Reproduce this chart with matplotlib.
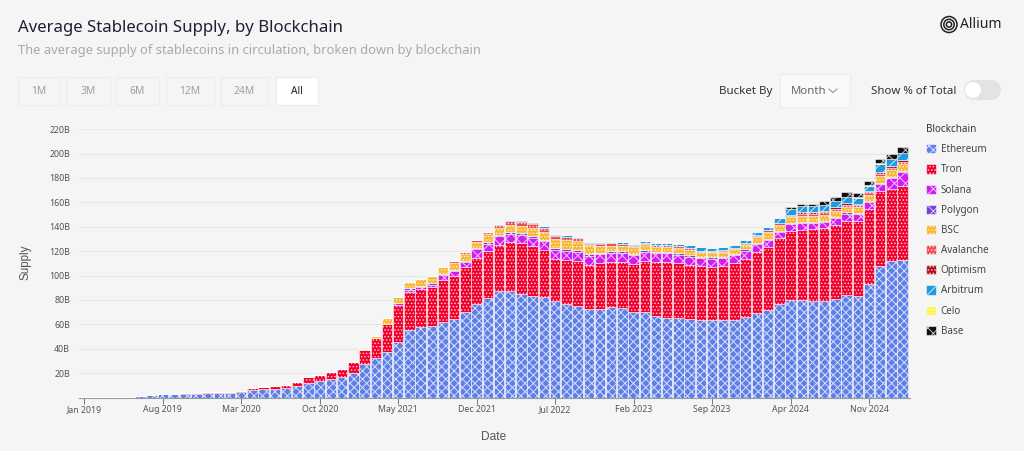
import numpy as np
import matplotlib
matplotlib.use("Agg")
import matplotlib.pyplot as plt
from matplotlib.patches import Rectangle, Circle

plt.rcParams["font.family"] = ["Noto Sans", "DejaVu Sans"]
plt.rcParams["hatch.linewidth"] = 0.7

BG = "#f5f5f5"

tick_labels = ["Jan 2019", "Aug 2019", "Mar 2020", "Oct 2020", "May 2021", "Dec 2021",
               "Jul 2022", "Feb 2023", "Sep 2023", "Apr 2024", "Nov 2024"]
y_ticks = [20, 40, 60, 80, 100, 120, 140, 160, 180, 200, 220]

ethereum = [0.3, 0.4, 0.5, 0.6, 0.8, 1.3, 2.2, 2.5, 2.8, 3.2,
            3.2, 3.3, 3.4, 3.4, 4.4, 6.5, 7, 7, 7.6, 9.5,
            12, 13.6, 15, 16.6, 20, 27.3, 32, 37, 45.6, 55,
            57.4, 58.7, 61.7, 64, 69.7, 76.8, 81.7, 87, 87.4, 85,
            82.8, 82, 78.7, 77, 75, 72.7, 72.4, 73.8, 73.5, 70,
            70, 66.7, 65, 65, 64.6, 63.8, 63.5, 63.3, 63.5, 65.7,
            69, 71.7, 77, 80, 80, 79, 79, 81, 83.7, 83.5,
            93, 107.8, 112, 112.7]
tron = [0, 0, 0, 0, 0, 0.1, 0.2, 0.2, 0.2, 0.3,
        0.6, 0.8, 0.8, 0.8, 0.6, 0.9, 2, 2.8, 3, 3.5,
        4.4, 4.7, 5.5, 6.4, 9, 12, 17, 23, 30.4, 31.6,
        31.4, 32, 35, 36, 36.9, 37.8, 38.3, 37.9, 39.9, 41.5,
        41, 38.5, 34.7, 36, 36.7, 35.8, 37.6, 37.2, 37.5, 39.6,
        42, 44.5, 46.3, 45, 44, 44, 43.2, 44.5, 46.5, 48.1,
        50.5, 51.9, 54, 56.7, 57.5, 58.9, 60.2, 60.4, 61, 61.2,
        61.5, 61.2, 58.6, 60.7]
solana = [0, 0, 0, 0, 0, 0, 0, 0, 0, 0,
          0, 0, 0, 0, 0, 0, 0, 0, 0, 0,
          0, 0, 0, 0, 0, 0, 0, 0, 1.2, 1.2,
          1.6, 1.6, 3.5, 3.8, 4.2, 6.8, 6.2, 7.2, 7.1, 6.5,
          7.2, 7.4, 7.4, 7, 7.3, 7.5, 7.5, 7.6, 7.4, 7.1,
          7.1, 7, 6.9, 7, 6.8, 6.3, 7.1, 6.5, 6.7, 6.5,
          6.3, 5.5, 5, 5.3, 5.5, 5.3, 5, 6, 6, 6,
          6, 6.3, 9.5, 11.4]
polygon = [0, 0, 0, 0, 0, 0, 0, 0, 0, 0,
           0, 0, 0, 0, 0, 0, 0, 0, 0, 0,
           0, 0, 0, 0, 0, 0, 0, 0, 0, 1.9,
           1.1, 1.4, 1.1, 1.1, 1.1, 1.1, 1.4, 1.4, 1.4, 1.6,
           1.6, 1.6, 1.9, 1.9, 1.6, 1.5, 1.2, 1.4, 1.4, 1.3,
           1.4, 1.2, 1.2, 1.2, 1.1, 1, 1.1, 1.1, 1.2, 1.1,
           1.1, 0.9, 0.8, 0.8, 0.8, 0.7, 0.8, 0.8, 1, 0.8,
           0.8, 0.8, 0.8, 1.2]
bsc = [0, 0, 0, 0, 0, 0, 0, 0, 0, 0,
       0, 0, 0, 0, 0, 0, 0, 0, 0, 0,
       0, 0, 0, 0, 0, 0.2, 1.6, 5, 5.5, 5,
       5.3, 5.7, 5.6, 5.7, 5.9, 5.2, 6.8, 5.4, 5.7, 6,
       6.5, 6.5, 7.1, 7, 7.5, 7.1, 5.4, 4.4, 4.4, 5.5,
       5.2, 4.1, 4.3, 4.4, 4.5, 4, 4, 3.9, 4, 4,
       4.6, 5.5, 4.6, 5.2, 4.8, 4.6, 4.8, 4.6, 4.5, 4.5,
       5, 5.3, 5.2, 5.6]
avalanche = [0, 0, 0, 0, 0, 0, 0, 0, 0, 0,
             0, 0, 0, 0, 0, 0, 0, 0, 0, 0,
             0, 0, 0, 0, 0, 0, 0, 0, 0, 0,
             0, 0, 0.4, 1, 1.2, 1.3, 1.4, 2.6, 3, 3.5,
             3.5, 2.8, 2.8, 2.7, 2.5, 1.6, 1.9, 1.9, 1.6, 0.8,
             0.8, 1.3, 1.4, 1.3, 1.2, 1, 1, 1, 0.6, 0.8,
             1.1, 1.4, 1.6, 1.1, 2.2, 2.2, 1.9, 1.6, 1.6, 1.6,
             1.9, 2.2, 1.9, 1.4]
optimism = [0, 0, 0, 0, 0, 0, 0, 0, 0, 0,
            0, 0, 0, 0, 0, 0, 0, 0, 0, 0,
            0, 0, 0, 0, 0, 0, 0, 0, 0, 0,
            0, 0, 0, 0, 0, 0, 0, 0.1, 0.2, 0.2,
            0.2, 0.2, 0.3, 0.3, 0.3, 0.3, 0.3, 0.3, 0.3, 0.3,
            0.3, 0.3, 0.3, 0.3, 0.3, 0.3, 0.3, 0.3, 0.3, 0.3,
            0.3, 0.3, 0.4, 0.8, 1.1, 1.1, 1.4, 1.4, 1.4, 1.1,
            1.1, 1.4, 1.6, 1.4]
arbitrum = [0, 0, 0, 0, 0, 0, 0, 0, 0, 0,
            0, 0, 0, 0, 0, 0, 0, 0, 0, 0,
            0, 0, 0, 0, 0, 0, 0, 0, 0, 0,
            0, 0, 0, 0, 0, 0, 0, 0.6, 1, 1.2,
            1, 1.2, 1.2, 1.2, 0.8, 0.8, 1, 1.2, 1, 1,
            1.2, 1.4, 1.6, 2, 2.2, 2.6, 2.6, 2.8, 2.6, 3,
            3, 2.2, 3.5, 4.4, 4.9, 4.9, 4.9, 5, 5.2, 5.2,
            4.4, 6.8, 6, 6]
celo = [0, 0, 0, 0, 0, 0, 0, 0, 0, 0,
        0, 0, 0, 0, 0, 0, 0, 0, 0, 0,
        0, 0, 0, 0, 0, 0, 0, 0, 0, 0,
        0, 0, 0, 0, 0, 0, 0, 0, 0, 0,
        0.1, 0.1, 0.1, 0.1, 0.1, 0.1, 0.1, 0.1, 0.1, 0.1,
        0.1, 0.1, 0.1, 0.1, 0.1, 0.1, 0.1, 0.1, 0.1, 0.1,
        0.1, 0.1, 0.1, 0.1, 0.1, 0.1, 0.1, 0.1, 0.1, 0.1,
        0.1, 0.1, 0.1, 0.1]
base = [0, 0, 0, 0, 0, 0, 0, 0, 0, 0,
        0, 0, 0, 0, 0, 0, 0, 0, 0, 0,
        0, 0, 0, 0, 0, 0, 0, 0, 0, 0,
        0, 0, 0, 0, 0, 0, 0, 0, 0, 0,
        0, 0, 0, 0, 0, 0, 0, 0, 0, 0,
        0, 0, 0, 0, 0, 0, 0, 0, 0, 0,
        0, 0, 0.2, 1.7, 1.8, 1.9, 2.8, 3.2, 3.6, 3.4,
        4, 3.6, 4, 4.6]

chains = [("Ethereum", ethereum, "#5f7fe8", "xxxx"),
          ("Tron", tron, "#f0002d", "....."),
          ("Solana", solana, "#d21cf0", "xxx"),
          ("Polygon", polygon, "#7a3fd9", "xxx"),
          ("BSC", bsc, "#f7b731", "....."),
          ("Avalanche", avalanche, "#ee4b4b", "....."),
          ("Optimism", optimism, "#b00d1e", "....."),
          ("Arbitrum", arbitrum, "#1e9be0", "///"),
          ("Celo", celo, "#fdf24e", "....."),
          ("Base", base, "#111111", "xxx")]

fig = plt.figure(figsize=(10.24, 4.51), dpi=100, facecolor=BG)

# page furniture in pixel coordinates
ui = fig.add_axes([0, 0, 1, 1])
ui.set_xlim(0, 1024); ui.set_ylim(451, 0); ui.axis("off")


def box(x0, y0, x1, y1, fc, ec="#ececec"):
    ui.add_patch(Rectangle((x0, y0), x1 - x0, y1 - y0, fc=fc, ec=ec, lw=0.8))


ui.text(18, 28, "Average Stablecoin Supply, by Blockchain", fontsize=12.1, color="#1e2233",
        fontweight="medium", va="center")
ui.text(18, 50.5, "The average supply of stablecoins in circulation, broken down by blockchain",
        fontsize=9.3, color="#a9a9a9", va="center")

buttons = [("1M", 18, 60), ("3M", 66, 110), ("6M", 116, 159), ("12M", 166, 214), ("24M", 221, 268), ("All", 275.5, 317.5)]
for label, x0, x1 in buttons:
    on = label == "All"
    box(x0, 76.5, x1, 104.5, "white" if on else BG)
    ui.text((x0 + x1) / 2, 91, label, fontsize=7.4, ha="center", va="center",
            color="#222222" if on else "#a0a0a0", fontweight="medium" if on else "normal")

ui.text(719, 91.5, "Bucket By", fontsize=8.3, color="#333333", fontweight="medium", va="center")
box(780, 73.5, 850, 106.5, "#fafafa")
ui.text(791, 91, "Month", fontsize=8.2, color="#666666", va="center")
ui.plot([829, 833, 837], [89, 92.5, 89], color="#888888", lw=0.7)
ui.text(871, 91, "Show % of Total", fontsize=8.2, color="#333333", fontweight="medium", va="center")
ui.add_patch(Rectangle((974, 80), 17, 20, fc="#e3e3e3", ec="none"))
ui.add_patch(Circle((974, 90), 10, fc="#e3e3e3", ec="none"))
ui.add_patch(Circle((991, 90), 10, fc="#e3e3e3", ec="none"))
ui.add_patch(Circle((973, 90), 8, fc="white", ec="none"))

for r in [8, 5.2, 2.6]:
    ui.add_patch(Circle((949, 24.5), r, fc="none", ec="#222222", lw=1.1))
ui.text(960, 24.5, "Allium", fontsize=10, color="#222222", va="center")

# chart
ax = fig.add_axes([78.5 / 1024, 1 - 397.5 / 451, (910 - 78.5) / 1024, 268.4 / 451], facecolor="none")
months = np.arange(len(ethereum))
bottom = np.zeros(len(ethereum))
handles = []
for name, vals, color, hatch in chains:
    vals = np.array(vals, dtype=float)
    b = ax.bar(months, vals, 0.93, bottom=bottom, color=color, edgecolor=(1, 1, 1, 0.75),
               linewidth=0.5, hatch=hatch, label=name, zorder=3)
    handles.append(b)
    bottom += vals

ax.set_xlim(-0.517, 73.66)
ax.set_ylim(0, 220)
ax.set_xticks(months[::7])
ax.set_xticklabels(tick_labels, fontsize=6.3, color="#555555")
ax.set_yticks(y_ticks)
ax.set_yticklabels([f"{v}B" for v in y_ticks], fontsize=6.4, color="#555555")
ax.grid(axis="y", color="#e8e8e8", lw=0.9, zorder=0)
ax.tick_params(axis="x", length=4, width=0.7, color="#777777", pad=1.5)
ax.tick_params(axis="y", length=0, pad=6)
for s in ["top", "right", "left"]:
    ax.spines[s].set_visible(False)
ax.spines["bottom"].set_color("#999999"); ax.spines["bottom"].set_linewidth(0.8)
ax.set_axisbelow(True)

ui.text(26, 262, "Supply", fontsize=8.4, color="#555555", rotation=90, ha="center", va="center",
        family="Liberation Sans")
ui.text(494, 437, "Date", fontsize=8.6, color="#555555", ha="center", va="center",
        family="Liberation Sans")

leg = ax.legend(handles=handles, title="Blockchain", frameon=False, loc="upper left",
                bbox_to_anchor=((926 - 78.5) / (910 - 78.5), 1.019), borderaxespad=0, borderpad=0,
                fontsize=7.1, handlelength=1.05, handleheight=1.05, handletextpad=0.45,
                labelspacing=0.93, alignment="left", labelcolor="#444444")
leg.get_title().set_fontsize(7.1)
leg.get_title().set_fontweight("medium")
leg.get_title().set_color("#333333")

fig.savefig("out.png", dpi=100, facecolor=BG)
